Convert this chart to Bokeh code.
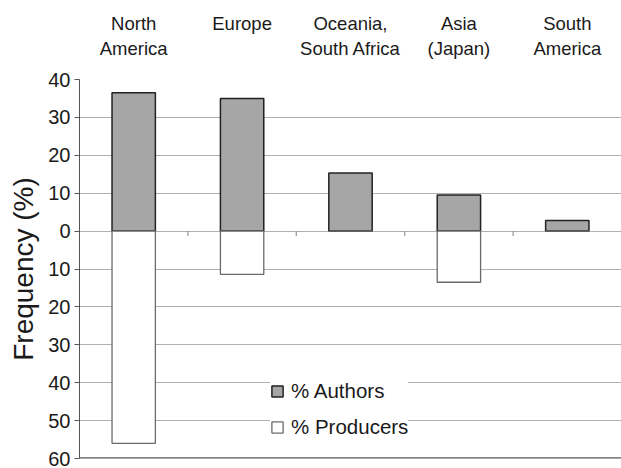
from bokeh.plotting import figure
from bokeh.models import (FixedTicker, LinearAxis, Legend, LegendItem, Span, Range1d,
                          ColumnDataSource)
from bokeh.embed import file_html
from bokeh.resources import INLINE

categories = ["North\nAmerica", "Europe", "Oceania,\nSouth Africa", "Asia\n(Japan)", "South\nAmerica"]
authors = [36.5, 35.0, 15.3, 9.5, 2.8]
producers = [56.0, 11.4, 0.0, 13.5, 0.0]
y_ticks = [40, 30, 20, 10, 0, -10, -20, -30, -40, -50, -60]

FONT = "Liberation Sans"
TXT = "#1a1a1a"

n = len(categories)
xs = [i + 0.5 for i in range(n)]
line1 = [c.split("\n")[0] for c in categories]
line2 = [(c.split("\n") + [""])[1] for c in categories]

p = figure(width=621, height=468, output_backend="svg", toolbar_location=None,
           x_range=Range1d(0, n), y_range=Range1d(-60, 40),
           min_border_left=79, min_border_top=79, min_border_bottom=10, min_border_right=0)
p.outline_line_color = None
p.background_fill_color = "white"
p.xaxis.visible = False
p.xgrid.visible = False
p.ygrid.ticker = FixedTicker(ticks=y_ticks)
p.ygrid.grid_line_color = "#b0b0b0"
p.ygrid.grid_line_width = 1.2

ya = p.yaxis[0]
ya.ticker = FixedTicker(ticks=y_ticks)
ya.major_label_overrides = {t: str(abs(t)) for t in y_ticks}
ya.major_label_text_font = FONT
ya.major_label_text_font_size = "20px"
ya.major_label_text_color = TXT
ya.major_tick_out = 5
ya.major_tick_in = 0
ya.minor_tick_out = 0
ya.minor_tick_in = 0
ya.axis_line_color = "#555555"
ya.major_tick_line_color = "#555555"
ya.axis_label = "Frequency (%)"
ya.axis_label_text_font = FONT
ya.axis_label_text_font_size = "28px"
ya.axis_label_text_font_style = "normal"
ya.axis_label_text_color = TXT
ya.axis_label_standoff = 6
ya.major_label_standoff = 4


def top_axis(labels, standoff):
    ax = LinearAxis(ticker=FixedTicker(ticks=xs),
                    major_label_overrides={x: c for x, c in zip(xs, labels)})
    ax.axis_line_color = None
    ax.major_tick_line_color = None
    ax.minor_tick_line_color = None
    ax.major_tick_out = 0
    ax.major_tick_in = 0
    ax.major_label_text_font = FONT
    ax.major_label_text_font_size = "18.5px"
    ax.major_label_text_color = TXT
    ax.major_label_standoff = standoff
    return ax


p.add_layout(top_axis(line2, 21), "above")
p.add_layout(top_axis(line1, 1), "above")

src = ColumnDataSource(dict(x=xs, a=authors, pr=[-v for v in producers]))
ra = p.vbar(x="x", top="a", bottom=0, width=0.4, source=src,
            fill_color="#a6a6a6", line_color="#222222", line_width=1.5)
rp = p.vbar(x="x", top=0, bottom="pr", width=0.4, source=src,
            fill_color="white", line_color="#6a6a6a", line_width=1.3)

# small category-boundary ticks on zero line
bx = list(range(1, n))
p.segment(x0=bx, x1=bx, y0=[0] * len(bx), y1=[-1.3] * len(bx),
          line_color="#999999", line_width=1.2)

# bottom axis line
p.add_layout(Span(location=-60, dimension="width", line_color="#555555", line_width=2.5))

legend = Legend(items=[LegendItem(label="% Authors", renderers=[ra]),
                       LegendItem(label="% Producers", renderers=[rp])],
                location=(191, 19), orientation="vertical",
                background_fill_color="white", background_fill_alpha=1.0,
                border_line_color=None, padding=8, spacing=12,
                label_text_font=FONT, label_text_font_size="20.5px",
                label_text_color=TXT, label_height=20,
                glyph_width=14, glyph_height=14, label_standoff=7, margin=0)
p.add_layout(legend, "center")

open("out.html", "w").write(file_html(p, INLINE))
